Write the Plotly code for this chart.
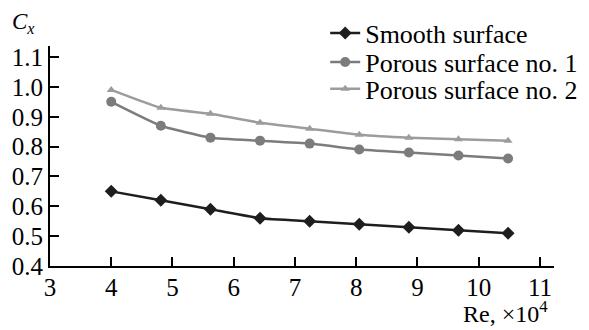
import plotly.graph_objects as go

re_vals = [4.0, 4.81, 5.62, 6.43, 7.24, 8.05, 8.86, 9.67, 10.48]
smooth = [0.65, 0.62, 0.59, 0.56, 0.55, 0.54, 0.53, 0.52, 0.51]
porous1 = [0.95, 0.87, 0.83, 0.82, 0.81, 0.79, 0.78, 0.77, 0.76]
porous2 = [0.99, 0.93, 0.91, 0.88, 0.86, 0.84, 0.83, 0.825, 0.82]
names = ["Smooth surface", "Porous surface no. 1", "Porous surface no. 2"]
x_ticks = [3, 4, 5, 6, 7, 8, 9, 10, 11]
y_ticks = [0.4, 0.5, 0.6, 0.7, 0.8, 0.9, 1.0, 1.1]

FONT = "Liberation Serif"
fig = go.Figure()
series = [
    (smooth, names[0], "#1e1e1e", "diamond", 10, "legend"),
    (porous1, names[1], "#7c7c7c", "circle", 10, "legend2"),
    (porous2, names[2], "#9c9c9c", "triangle-up", 8, "legend3"),
]
for ys, nm, col, sym, sz, lg in series:
    fig.add_trace(go.Scatter(
        x=re_vals, y=ys, name=nm, mode="lines+markers", legend=lg,
        line=dict(color=col, width=2.5, shape="spline", smoothing=0.4),
        marker=dict(symbol=sym, size=sz, color=col),
    ))

def leg(y):
    return dict(x=0.546, y=y, xanchor="left", yanchor="middle",
                font=dict(family=FONT, size=26), bgcolor="rgba(0,0,0,0)",
                itemwidth=30)

# page has an 8px body margin: figure is 581x322 placed at (8,8)
fig.update_layout(
    width=581, height=322,
    margin=dict(l=42, r=35, t=38, b=64, autoexpand=False),
    paper_bgcolor="white", plot_bgcolor="white",
    font=dict(family=FONT, size=25, color="black"),
    showlegend=True,
    legend=leg(1.059), legend2=leg(0.927), legend3=leg(0.805),
)
fig.update_xaxes(
    range=[3, 11.23], tickvals=x_ticks, ticktext=[str(t) for t in x_ticks],
    showgrid=False, zeroline=False, showline=True, linecolor="black", linewidth=2,
    ticks="inside", ticklen=9, tickwidth=2, tickcolor="black",
    tickfont=dict(family=FONT, size=25), automargin=False,
)
fig.update_yaxes(
    range=[0.4, 1.137], tickvals=y_ticks, ticktext=[f"{t:.1f}" for t in y_ticks],
    showgrid=False, zeroline=False, showline=True, linecolor="black", linewidth=2,
    ticks="inside", ticklen=9, tickwidth=2, tickcolor="black",
    tickfont=dict(family=FONT, size=25), automargin=False, ticklabelstandoff=0,
)
try:
    fig.update_xaxes(ticklabelstandoff=-2)
except ValueError:
    pass
fig.add_annotation(text="<i>C<sub>x</sub></i>", xref="paper", yref="paper",
                   x=-0.079, y=1.105, xanchor="left", yanchor="middle",
                   showarrow=False, font=dict(family=FONT, size=23))
fig.add_annotation(text="Re, ×10<sup>4</sup>", xref="paper", yref="paper",
                   x=0.992, y=-0.21, xanchor="right", yanchor="middle",
                   showarrow=False, font=dict(family=FONT, size=24))
fig.write_html("out.html")
